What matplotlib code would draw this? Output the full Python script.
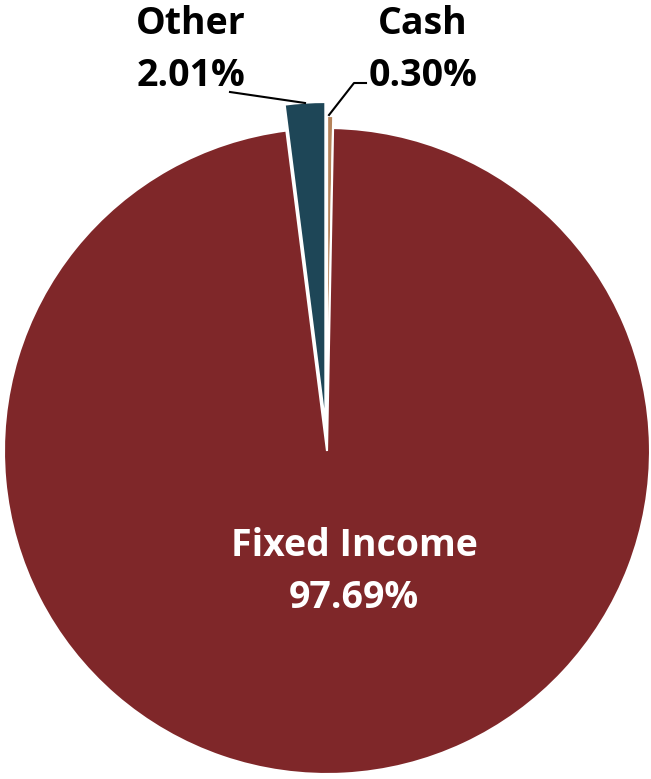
import matplotlib.pyplot as plt

# Asset allocation
labels = ["Cash", "Fixed Income", "Other"]
values = [0.30, 97.69, 2.01]
colors = ["#b5835a", "#7f2729", "#1e4657"]

W, H = 651, 779
radius = 323
# explode w pie() jest w jednostkach danych (tu piksele)
explode = [12, 0, 26]

fig = plt.figure(figsize=(W / 100, H / 100), dpi=100)
ax = fig.add_axes([0, 0, 1, 1])

ax.pie(values, colors=colors, startangle=90, counterclock=False, explode=explode,
       center=(327, H - 451), radius=radius,
       wedgeprops=dict(edgecolor="white", linewidth=1.5))

# pie() resets the limits, so set them afterwards
ax.set_xlim(0, W)
ax.set_ylim(0, H)
ax.set_aspect("equal")
ax.axis("off")

font = dict(family="Open Sans", weight="bold", size=27)

# Napis w środku dużego wycinka
ax.text(354, H - 572, "Fixed Income\n97.69%", color="white", ha="center", va="center",
        linespacing=1.45, **font)

# Etykiety małych wycinków z liniami
ax.text(191, H - 50, "Other\n2.01%", color="black", ha="center", va="center",
        linespacing=1.45, **font)
ax.text(423, H - 50, "Cash\n0.30%", color="black", ha="center", va="center",
        linespacing=1.45, **font)

ax.plot([230, 305], [H - 92, H - 103], color="black", lw=1.5)
ax.plot([329, 354, 366], [H - 115, H - 83, H - 83], color="black", lw=1.5)

fig.savefig("out.png", dpi=100)
